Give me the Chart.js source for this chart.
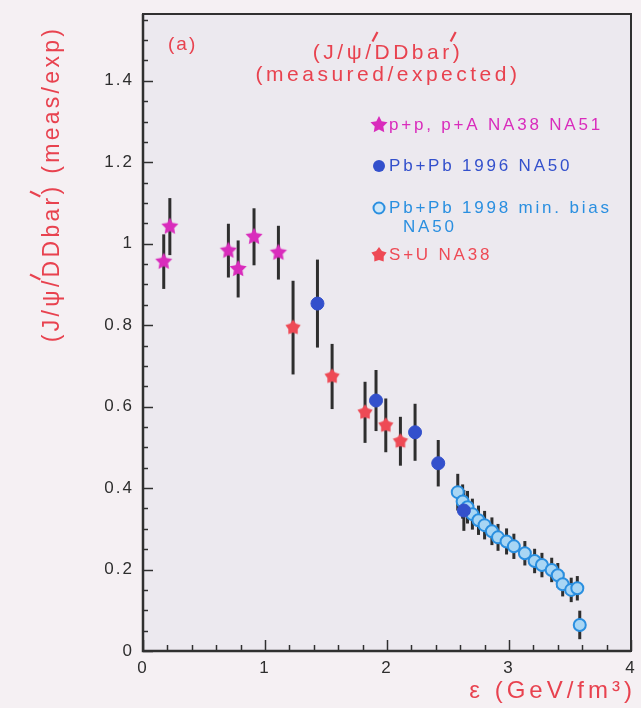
<!DOCTYPE html>
<html>
<head>
<meta charset="utf-8">
<script src="https://cdn.jsdelivr.net/npm/chart.js@4.4.1/dist/chart.umd.min.js"></script>
<style>
  html, body { margin: 0; padding: 0; background: #f5f0f3; }
</style>
</head>
<body>
<canvas id="chartRatio" width="641" height="708"></canvas>
<script>
// energy density (GeV/fm^3), measured/expected ratio and its error
const ppX = [0.17, 0.22, 0.70, 0.78, 0.91, 1.11]
const ppY = [0.956, 1.042, 0.983, 0.938, 1.017, 0.978]
const ppErr = [0.067, 0.07, 0.066, 0.07, 0.07, 0.066]

const pb96X = [1.43, 1.91, 2.23, 2.42, 2.63]
const pb96Y = [0.853, 0.615, 0.537, 0.461, 0.345]
const pb96Err = [0.108, 0.075, 0.07, 0.057, 0.05]

const pb98X = [2.58, 2.62, 2.66, 2.70, 2.75, 2.80, 2.86, 2.91, 2.98, 3.04, 3.13, 3.21, 3.27, 3.35, 3.40, 3.44, 3.51, 3.56, 3.58]
const pb98Y = [0.390, 0.367, 0.353, 0.336, 0.321, 0.309, 0.294, 0.279, 0.269, 0.257, 0.240, 0.221, 0.211, 0.199, 0.186, 0.164, 0.150, 0.154, 0.064]
const pb98Err = [0.045, 0.042, 0.04, 0.038, 0.036, 0.035, 0.034, 0.033, 0.032, 0.031, 0.03, 0.03, 0.03, 0.03, 0.03, 0.03, 0.03, 0.03, 0.035]

const suX = [1.23, 1.55, 1.82, 1.99, 2.11]
const suY = [0.794, 0.674, 0.586, 0.554, 0.515]
const suErr = [0.115, 0.08, 0.075, 0.066, 0.06]

const seriesNames = ['p+p, p+A NA38 NA51', 'Pb+Pb 1996 NA50', 'Pb+Pb 1998 min. bias\nNA50', 'S+U NA38']
const xTicks = [0, 1, 2, 3, 4]
const yTicks = [0, 0.2, 0.4, 0.6, 0.8, 1, 1.2, 1.4]

const FONT = "'Liberation Sans', Arial, sans-serif"
const RED = '#e8424f'
const colPP = '#d92cbc'
const colPb96 = '#3350cc'
const colPb98 = '#2a8fe0'
const colSU = '#ee4a55'

function starImage(color, r, inner) {
    const c = document.createElement('canvas')
    const s = Math.ceil(r * 2 + 4)
    c.width = s
    c.height = s
    const g = c.getContext('2d')
    g.translate(s / 2, s / 2)
    g.beginPath()
    for (let i = 0; i < 10; i++) {
        const rad = i % 2 ? r * inner : r
        const a = -Math.PI / 2 + i * Math.PI / 5
        g.lineTo(rad * Math.cos(a), rad * Math.sin(a))
    }
    g.closePath()
    g.fillStyle = color
    g.fill()
    return c
}

const starPP = starImage(colPP, 9, 0.5)
const starSU = starImage(colSU, 8, 0.62)

const pts = (xs, ys) => xs.map((v, i) => ({ x: v, y: ys[i] }))

// fill page and plot area
const background = {
    id: 'background',
    beforeDraw(chart) {
        const { ctx, chartArea: a } = chart
        ctx.save()
        ctx.fillStyle = '#f5f0f3'
        ctx.fillRect(0, 0, chart.width, chart.height)
        ctx.fillStyle = '#ece9ef'
        ctx.fillRect(a.left, a.top, a.right - a.left, a.bottom - a.top)
        ctx.restore()
        ctx.letterSpacing = '2px'
    }
}

// vertical error bars behind the markers
const errorBars = {
    id: 'errorBars',
    beforeDatasetsDraw(chart) {
        const { ctx, scales: { x, y } } = chart
        ctx.save()
        ctx.strokeStyle = '#2e2e2e'
        ctx.lineWidth = 3
        chart.data.datasets.forEach(ds => {
            ds.data.forEach((p, i) => {
                const e = ds.errors[i]
                const px = x.getPixelForValue(p.x)
                ctx.beginPath()
                ctx.moveTo(px, y.getPixelForValue(p.y - e))
                ctx.lineTo(px, y.getPixelForValue(p.y + e))
                ctx.stroke()
            })
        })
        ctx.restore()
    }
}

// box around the plot with inward ticks
const frame = {
    id: 'frame',
    afterDraw(chart) {
        const { ctx, chartArea: a, scales: { x, y } } = chart
        ctx.save()
        ctx.strokeStyle = '#303030'
        ctx.lineWidth = 1.5
        for (let v = 0; v <= 1.56; v += 0.05) {
            const py = Math.round(y.getPixelForValue(v)) + 0.5
            const major = Math.abs(v / 0.2 - Math.round(v / 0.2)) < 1e-6
            ctx.beginPath()
            ctx.moveTo(a.left, py)
            ctx.lineTo(a.left + (major ? 10 : 5), py)
            ctx.stroke()
        }
        for (let v = 0; v <= 4.001; v += 0.2) {
            const px = Math.round(x.getPixelForValue(v)) + 0.5
            const major = Math.abs(v - Math.round(v)) < 1e-6
            ctx.beginPath()
            ctx.moveTo(px, a.bottom)
            ctx.lineTo(px, a.bottom - (major ? 11 : 6))
            ctx.stroke()
        }
        ctx.lineWidth = 2
        ctx.strokeRect(a.left, a.top, a.right - a.left, a.bottom - a.top)
        ctx.lineWidth = 2.5
        ctx.beginPath()
        ctx.moveTo(a.left, a.top)
        ctx.lineTo(a.left, a.bottom)
        ctx.lineTo(a.right, a.bottom)
        ctx.stroke()
        ctx.restore()
    }
}

// text centred on x, with slanted prime strokes after the given characters
function primedText(ctx, text, x, y, primes, size) {
    const w = ctx.measureText(text).width
    const x0 = x - w / 2
    ctx.textAlign = 'left'
    ctx.fillText(text, x0, y)
    ctx.lineWidth = 2.2
    primes.forEach(i => {
        const dx = x0 + ctx.measureText(text.slice(0, i + 1)).width
        ctx.beginPath()
        ctx.moveTo(dx - 2, y - size * 0.55)
        ctx.lineTo(dx + 3, y - size * 1.0)
        ctx.stroke()
    })
}

const annotations = {
    id: 'annotations',
    afterDraw(chart) {
        const { ctx } = chart
        ctx.save()
        ctx.fillStyle = RED
        ctx.strokeStyle = RED
        ctx.textBaseline = 'middle'

        ctx.font = '19px ' + FONT
        ctx.letterSpacing = '2px'
        ctx.textAlign = 'left'
        ctx.fillText('(a)', 168, 45)

        ctx.font = '21px ' + FONT
        ctx.letterSpacing = '3.5px'
        primedText(ctx, '(J/\u03c8/DDbar)', 388, 53, [4, 9], 21)
        ctx.textAlign = 'center'
        ctx.fillText('(measured/expected)', 388, 75)

        // axis titles
        ctx.font = '24px ' + FONT
        ctx.letterSpacing = '4px'
        ctx.textAlign = 'right'
        ctx.fillText('\u03b5 (GeV/fm\u00b3)', 636, 691)

        ctx.save()
        ctx.translate(53, 184)
        ctx.rotate(-Math.PI / 2)
        ctx.font = '23px ' + FONT
        ctx.letterSpacing = '3.3px'
        primedText(ctx, '(J/\u03c8/DDbar) (meas/exp)', 0, 0, [4, 9], 23)
        ctx.restore()

        // legend
        const rows = [
            { y: 125, color: colPP, mark: 'starPP' },
            { y: 166, color: colPb96, mark: 'dot' },
            { y: 208, color: colPb98, mark: 'ring' },
            { y: 255, color: colSU, mark: 'starSU' }
        ]
        ctx.font = '17px ' + FONT
        ctx.letterSpacing = '2.8px'
        ctx.textAlign = 'left'
        rows.forEach((r, i) => {
            const mx = 379
            if (r.mark === 'starPP') ctx.drawImage(starPP, mx - starPP.width / 2, r.y - starPP.height / 2)
            if (r.mark === 'starSU') ctx.drawImage(starSU, mx - starSU.width / 2, r.y - starSU.height / 2)
            if (r.mark === 'dot') {
                ctx.beginPath()
                ctx.arc(mx, r.y, 6, 0, Math.PI * 2)
                ctx.fillStyle = r.color
                ctx.fill()
            }
            if (r.mark === 'ring') {
                ctx.beginPath()
                ctx.arc(mx, r.y, 5.5, 0, Math.PI * 2)
                ctx.fillStyle = '#cfe7f8'
                ctx.fill()
                ctx.lineWidth = 2
                ctx.strokeStyle = r.color
                ctx.stroke()
            }
            ctx.fillStyle = r.color
            seriesNames[i].split('\n').forEach((line, k) => {
                ctx.fillText(line, k ? 403 : 389, r.y + k * 19)
            })
        })
        ctx.restore()
    }
}

const tickLabel = v => String(Math.round(v * 100) / 100)

new Chart(document.getElementById('chartRatio'), {
    type: 'scatter',
    data: {
        datasets: [{
            label: seriesNames[0],
            data: pts(ppX, ppY),
            errors: ppErr,
            pointStyle: starPP,
            pointRadius: 9
        }, {
            label: seriesNames[1],
            data: pts(pb96X, pb96Y),
            errors: pb96Err,
            pointStyle: 'circle',
            pointRadius: 6.5,
            backgroundColor: colPb96,
            borderColor: colPb96,
            borderWidth: 1
        }, {
            label: seriesNames[2],
            data: pts(pb98X, pb98Y),
            errors: pb98Err,
            pointStyle: 'circle',
            pointRadius: 6,
            backgroundColor: '#a9d6f4',
            borderColor: colPb98,
            borderWidth: 2
        }, {
            label: seriesNames[3],
            data: pts(suX, suY),
            errors: suErr,
            pointStyle: starSU,
            pointRadius: 8
        }]
    },
    options: {
        responsive: false,
        animation: false,
        layout: { padding: { top: 14, right: 10, left: 0, bottom: 0 } },
        plugins: {
            legend: { display: false },
            tooltip: { enabled: false }
        },
        scales: {
            x: {
                type: 'linear',
                min: 0,
                max: 4,
                grid: { display: false, drawTicks: false },
                border: { display: false },
                ticks: {
                    padding: 7,
                    color: '#2e2e2e',
                    font: { family: FONT, size: 17 },
                    callback: tickLabel
                },
                afterBuildTicks: s => { s.ticks = xTicks.map(v => ({ value: v })) },
                afterFit: s => {
                    s.height = 57
                    s.paddingLeft = 0
                    s.paddingRight = 0
                }
            },
            y: {
                min: 0,
                max: 1.564,
                grid: { display: false, drawTicks: false },
                border: { display: false },
                ticks: {
                    padding: 9,
                    color: '#2e2e2e',
                    font: { family: FONT, size: 17 },
                    callback: tickLabel
                },
                afterBuildTicks: s => { s.ticks = yTicks.map(v => ({ value: v })) },
                afterFit: s => {
                    s.width = 143
                    s.paddingTop = 0
                    s.paddingBottom = 0
                }
            }
        }
    },
    plugins: [background, errorBars, frame, annotations]
})
</script>
</body>
</html>
